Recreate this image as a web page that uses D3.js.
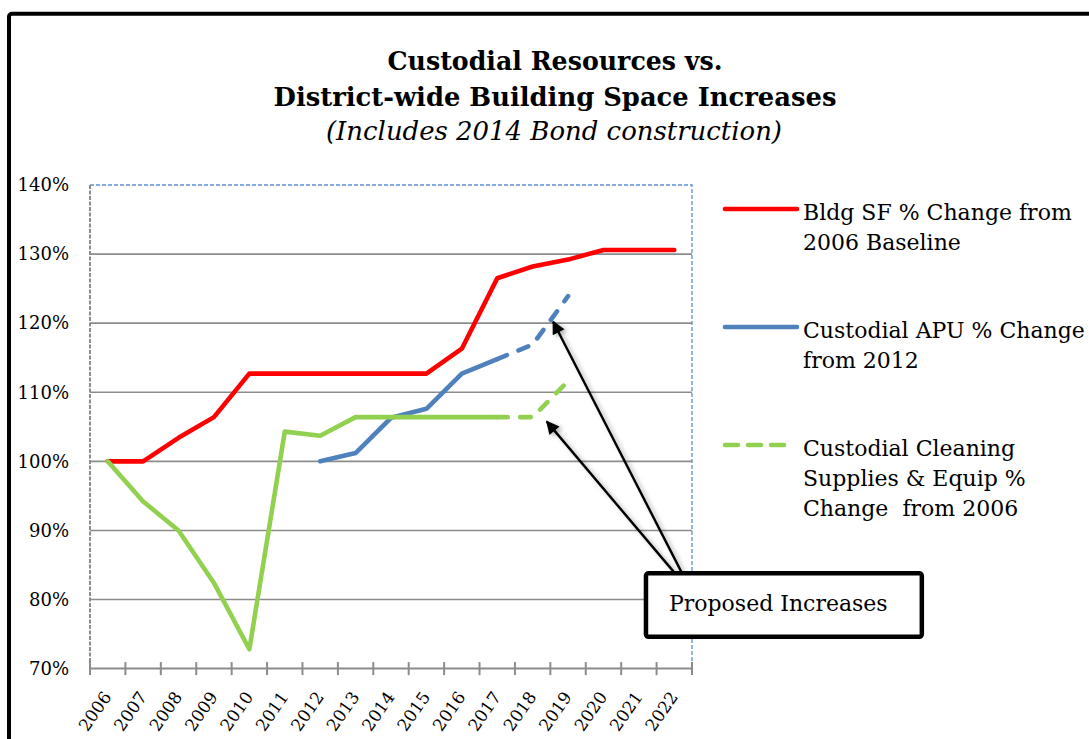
<!DOCTYPE html>
<html>
<head>
<meta charset="utf-8">
<script src="https://cdn.jsdelivr.net/npm/d3@7"></script>
<style>
  html, body { margin: 0; padding: 0; background: #fff; }
  svg { display: block; }
  text { white-space: pre; }
</style>
</head>
<body>
<svg id="chart" width="1089" height="739"></svg>
<script>
// ---------- DATA ----------
const years = [2006, 2007, 2008, 2009, 2010, 2011, 2012, 2013, 2014, 2015, 2016, 2017, 2018, 2019, 2020, 2021, 2022];
const bldgSF = [100, 100, 103.4, 106.4, 112.7, 112.7, 112.7, 112.7, 112.7, 112.7, 116.3, 126.5, 128.2, 129.2, 130.6, 130.6, 130.6];
const custodialAPU = [null, null, null, null, null, null, 100, 101.2, 106.3, 107.6, 112.7, 114.8, 116.9, 123.9, null, null, null];
const cleaningSupplies = [100, 94.2, 90.0, 82.4, 72.8, 104.3, 103.7, 106.4, 106.4, 106.4, 106.4, 106.4, 106.4, 111.6, null, null, null];
const proposedFromYear = 2017;
const yTicks = [70, 80, 90, 100, 110, 120, 130, 140];
const titleLines = ["Custodial Resources vs.", "District-wide Building Space Increases"];
const subtitle = "(Includes 2014 Bond construction)";
const legendItems = [
  { lines: ["Bldg SF % Change from", "2006 Baseline"], color: "#ff0000", dashed: false },
  { lines: ["Custodial APU % Change", "from 2012"], color: "#4f81bd", dashed: false },
  { lines: ["Custodial Cleaning", "Supplies & Equip %", "Change  from 2006"], color: "#92d050", dashed: true }
];
const calloutText = "Proposed Increases";

// ---------- LAYOUT ----------
const svg = d3.select("#chart");
const W = 1089, H = 739;
const plot = { left: 90, right: 692, top: 185, bottom: 668.6 };
const serif = "'DejaVu Serif', serif";

const x = d3.scaleLinear().domain([years[0] - 0.5, years[years.length - 1] + 0.5]).range([plot.left, plot.right]);
const y = d3.scaleLinear().domain([70, 140]).range([plot.bottom, plot.top]);

svg.append("rect").attr("width", W).attr("height", H).attr("fill", "#fff");

const defs = svg.append("defs");
defs.append("marker").attr("id", "arrowhead")
  .attr("viewBox", "0 0 10 10").attr("refX", 9).attr("refY", 5)
  .attr("markerWidth", 6).attr("markerHeight", 5.5).attr("markerUnits", "strokeWidth")
  .attr("orient", "auto")
  .append("path").attr("d", "M0,0 L10,5 L0,10 Z").attr("fill", "#000");
const f = defs.append("filter").attr("id", "shadow").attr("x", "-20%").attr("y", "-20%").attr("width", "140%").attr("height", "140%");
f.append("feDropShadow").attr("dx", 3).attr("dy", 2).attr("stdDeviation", 2).attr("flood-color", "#000").attr("flood-opacity", 0.3);

// outer frame
svg.append("rect").attr("x", 9).attr("y", 13.7).attr("width", 1200).attr("height", 900)
  .attr("rx", 3).attr("fill", "none").attr("stroke", "#000").attr("stroke-width", 4);

// titles
const titleCx = 555;
const titleG = svg.append("g").attr("font-family", serif).attr("fill", "#000").attr("text-anchor", "middle");
const titleWidths = [335, 563];
const titleBase = [70, 105.5];
titleLines.forEach((t, i) => {
  titleG.append("text").attr("x", titleCx).attr("y", titleBase[i])
    .attr("font-size", 26).attr("font-weight", "bold")
    .attr("textLength", titleWidths[i]).attr("lengthAdjust", "spacingAndGlyphs")
    .text(t);
});
titleG.append("text").attr("x", titleCx - 1).attr("y", 139.5)
  .attr("font-size", 25.5).attr("font-style", "italic")
  .attr("textLength", 456).attr("lengthAdjust", "spacingAndGlyphs")
  .text(subtitle);

// gridlines
svg.append("g").selectAll("line").data(yTicks.filter(v => v > 70 && v < 140)).join("line")
  .attr("x1", plot.left).attr("x2", plot.right)
  .attr("y1", d => y(d)).attr("y2", d => y(d))
  .attr("stroke", "#8c8c8c").attr("stroke-width", 1.6);

// plot border: top & right dashed blue
svg.append("path")
  .attr("d", `M${plot.left},${y(140)} H${plot.right} V${plot.bottom}`)
  .attr("fill", "none").attr("stroke", "#5b8fd0").attr("stroke-width", 1.3)
  .attr("stroke-dasharray", "4,2");

// left axis line (gray dashed)
svg.append("line").attr("x1", plot.left).attr("x2", plot.left).attr("y1", plot.top).attr("y2", plot.bottom)
  .attr("stroke", "#8c8c8c").attr("stroke-width", 2).attr("stroke-dasharray", "4,1.5");

// y axis labels
const yAxis = d3.axisLeft(y).tickValues(yTicks).tickFormat(d => d + "%").tickSize(0).tickPadding(21);
const yg = svg.append("g").attr("transform", `translate(${plot.left},0)`).call(yAxis);
yg.select(".domain").remove();
yg.selectAll("text").attr("font-family", serif).attr("font-size", 18).attr("fill", "#000");

// x axis line & ticks
svg.append("line").attr("x1", plot.left).attr("x2", plot.right).attr("y1", plot.bottom).attr("y2", plot.bottom)
  .attr("stroke", "#8c8c8c").attr("stroke-width", 2);
const boundaries = years.map(d => d - 0.5).concat([years[years.length - 1] + 0.5]);
svg.append("g").selectAll("line").data(boundaries).join("line")
  .attr("x1", d => x(d)).attr("x2", d => x(d))
  .attr("y1", plot.bottom - 6.5).attr("y2", plot.bottom + 6.5)
  .attr("stroke", "#8c8c8c").attr("stroke-width", 2);

// x labels
svg.append("g").selectAll("text").data(years).join("text")
  .attr("transform", d => `translate(${x(d) + 4.5},697) rotate(-55)`)
  .attr("text-anchor", "end").attr("font-family", serif).attr("font-size", 17).attr("fill", "#000")
  .text(d => d);

// series
const series = [
  { values: bldgSF, color: "#ff0000" },
  { values: custodialAPU, color: "#4f81bd" },
  { values: cleaningSupplies, color: "#92d050" }
];
const lineGen = d3.line().defined(d => d.v != null).x(d => x(d.year)).y(d => y(d.v));
const seriesG = svg.append("g");
series.forEach(s => {
  const pts = years.map((yr, i) => ({ year: yr, v: s.values[i] }));
  const lastYear = d3.max(pts.filter(p => p.v != null), p => p.year);
  const isProposed = s.color !== "#ff0000" && lastYear > proposedFromYear;
  const solidPts = isProposed ? pts.filter(p => p.year <= proposedFromYear) : pts;
  seriesG.append("path").datum(solidPts).attr("d", lineGen)
    .attr("fill", "none").attr("stroke", s.color).attr("stroke-width", 4.6)
    .attr("stroke-linecap", "round").attr("stroke-linejoin", "round");
  if (isProposed) {
    const dashPts = pts.filter(p => p.year >= proposedFromYear && p.v != null);
    seriesG.append("path").datum(dashPts).attr("d", lineGen)
      .attr("fill", "none").attr("stroke", s.color).attr("stroke-width", 4.6)
      .attr("stroke-linecap", "round").attr("stroke-linejoin", "round")
      .attr("stroke-dasharray", "10.5,12.5");
  }
});

// callout arrows (data coordinates)
const arrows = [
  { from: [2022.25, 83.5], to: [2018.58, 120.2] },
  { from: [2022.05, 83.6], to: [2018.40, 105.75] }
];
svg.append("g").attr("filter", "url(#shadow)").selectAll("line").data(arrows).join("line")
  .attr("x1", d => x(d.from[0])).attr("y1", d => y(d.from[1]))
  .attr("x2", d => x(d.to[0])).attr("y2", d => y(d.to[1]))
  .attr("stroke", "#000").attr("stroke-width", 2.4)
  .attr("marker-end", "url(#arrowhead)");

// callout box
const box = { x0: 2021.2, x1: 2028.99, y0: 83.8, y1: 74.6 };
svg.append("rect")
  .attr("x", x(box.x0)).attr("y", y(box.y0))
  .attr("width", x(box.x1) - x(box.x0)).attr("height", y(box.y1) - y(box.y0))
  .attr("rx", 2.5).attr("fill", "#fff").attr("stroke", "#000").attr("stroke-width", 4.5);
svg.append("text").attr("x", x(box.x0) + 23).attr("y", y(box.y0) + 37.5)
  .attr("font-family", serif).attr("font-size", 22).attr("fill", "#000")
  .text(calloutText);

// legend
const legendG = svg.append("g");
const legendTops = [209, 327, 445];
legendItems.forEach((item, i) => {
  const ly = legendTops[i];
  legendG.append("line").attr("x1", 725).attr("x2", item.dashed ? 788 : 797).attr("y1", ly).attr("y2", ly)
    .attr("stroke", item.color).attr("stroke-width", 4.6).attr("stroke-linecap", "round")
    .attr("stroke-dasharray", item.dashed ? "13,10" : null);
  item.lines.forEach((t, j) => {
    legendG.append("text").attr("x", 803).attr("y", ly + 11 + j * 30)
      .attr("font-family", serif).attr("font-size", 22).attr("fill", "#000")
      .text(t);
  });
});
</script>
</body>
</html>
